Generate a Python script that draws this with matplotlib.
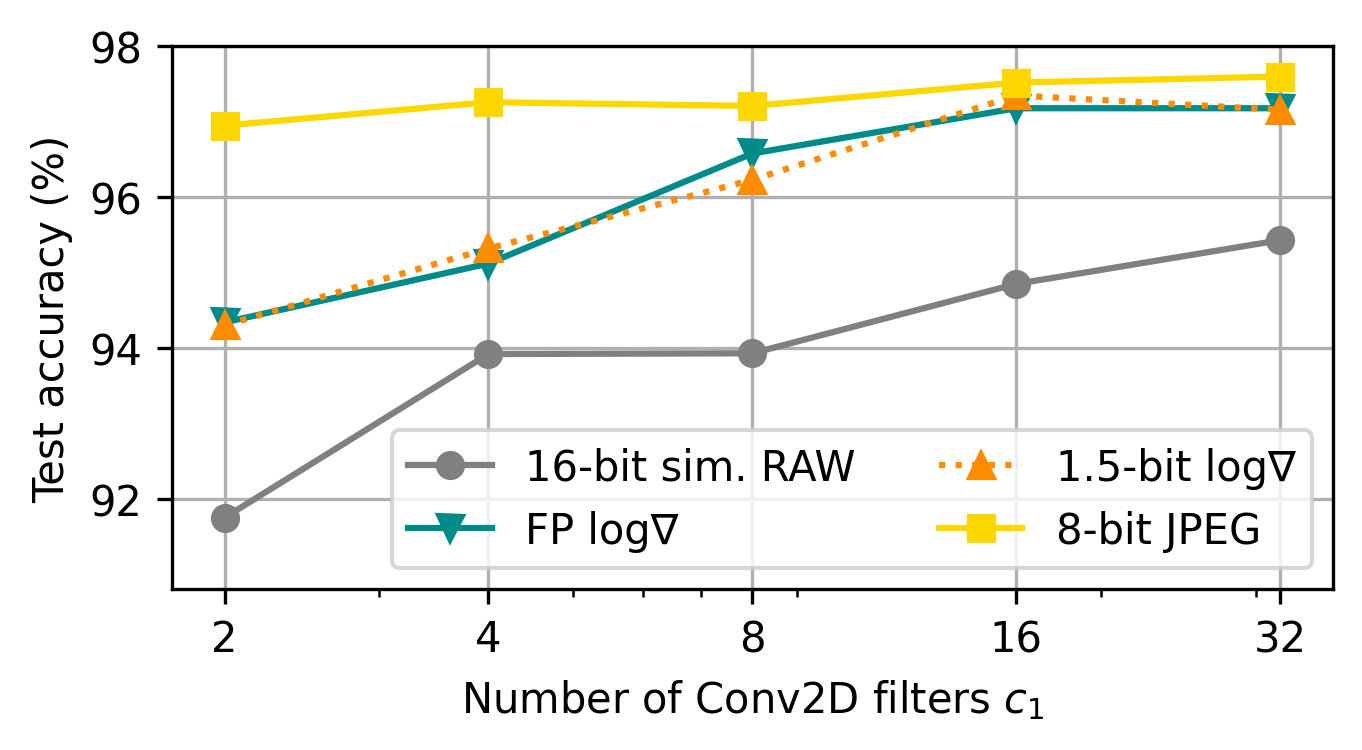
import matplotlib
matplotlib.use('Agg')
import matplotlib.pyplot as plt

filters = [2, 4, 8, 16, 32]
raw16 = [91.75, 93.92, 93.93, 94.85, 95.43]
fp_log = [94.34, 95.12, 96.58, 97.18, 97.18]
log15 = [94.30, 95.32, 96.23, 97.35, 97.16]
jpeg8 = [96.95, 97.26, 97.21, 97.52, 97.60]

fig, ax = plt.subplots(figsize=(4.543, 2.503), dpi=300)
fig.subplots_adjust(left=0.126, right=0.978, top=0.937, bottom=0.214)

ax.plot(filters, raw16, marker='o', color='gray', label='16-bit sim. RAW')
ax.plot(filters, fp_log, marker='v', color='darkcyan', label='FP log∇')
ax.plot(filters, log15, marker='^', color='darkorange', linestyle=':', label='1.5-bit log∇')
ax.plot(filters, jpeg8, marker='s', color='gold', label='8-bit JPEG')

ax.set_xscale('log')
ax.set_xticks(filters)
ax.set_xticklabels([str(f) for f in filters])
ax.set_yticks([92, 94, 96, 98])
ax.set_ylim(90.8, 98)
ax.grid(True)
ax.set_xlabel('Number of Conv2D filters $c_1$')
ax.set_ylabel('Test accuracy (%)')
ax.legend(ncol=2, loc='lower right')

plt.savefig('out.png', dpi=300)
